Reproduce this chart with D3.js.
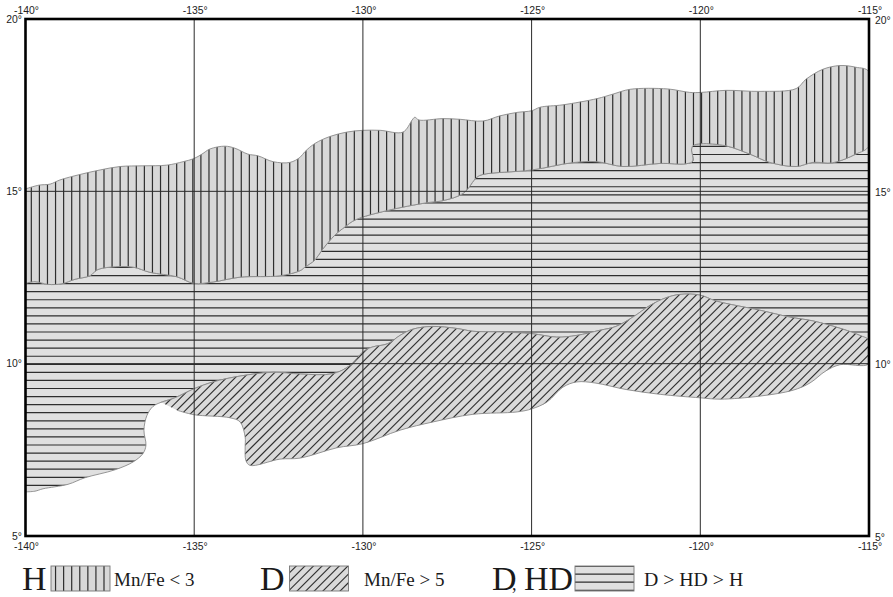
<!DOCTYPE html>
<html lang="en">

<head>
    <meta charset="UTF-8">
    <title>Mn/Fe map</title>
    <script src="https://d3js.org/d3.v7.min.js"></script>
    <style>
        html, body { margin: 0; padding: 0; background: #fff; }
        svg { display: block; }
        .tick text { font-family: "Liberation Sans", Arial, sans-serif; font-size: 10.4px; fill: #222; }
        .legend-text { font-family: "Liberation Serif", "Times New Roman", serif; fill: #1a1a1a; }
    </style>
</head>

<body>
    <svg width="893" height="597"></svg>
    <script>
        var lonTicks = [-140, -135, -130, -125, -120, -115];
        var latTicks = [5, 10, 15, 20];

        // upper edge of the H area, west to east [lon, lat]
        var hUpper = [[-140, 15.07], [-139.6, 15.18], [-139.27, 15.21], [-138.98, 15.33], [-138.38, 15.49], [-137.79, 15.62],
            [-137.2, 15.72], [-136.52, 15.74], [-135.81, 15.76], [-135.33, 15.86], [-135.01, 15.95], [-134.77, 16.08],
            [-134.53, 16.23], [-134.09, 16.31], [-133.79, 16.25], [-133.41, 16.08], [-133.11, 16.03], [-132.66, 15.86],
            [-132.16, 15.84], [-131.86, 15.99], [-131.72, 16.15], [-131.42, 16.39], [-130.98, 16.59], [-130.47, 16.72],
            [-130, 16.77], [-129.49, 16.77], [-128.81, 16.72], [-128.54, 17.07], [-128.46, 17.15], [-128.34, 17.07],
            [-127.63, 17.11], [-127.12, 17.09], [-126.44, 17.04], [-125.94, 17.19], [-125.43, 17.29], [-124.99, 17.34],
            [-124.75, 17.44], [-124.07, 17.51], [-123.06, 17.69], [-122.59, 17.82], [-122.08, 17.96], [-120.96, 17.97],
            [-120.31, 17.87], [-119.98, 17.87], [-119.24, 17.93], [-118.23, 17.9], [-117.16, 17.98], [-116.87, 18.25],
            [-116.37, 18.54], [-115.86, 18.65], [-115.39, 18.6], [-115, 18.47]];

        // border between H and D,HD, west to east
        var hLower = [[-140, 12.33], [-139.72, 12.38], [-139.33, 12.3], [-138.92, 12.32], [-138.53, 12.45], [-138.09, 12.55],
            [-137.88, 12.72], [-137.5, 12.8], [-136.81, 12.8], [-136.31, 12.65], [-135.51, 12.52], [-135.01, 12.33],
            [-134.44, 12.37], [-133.64, 12.51], [-132.46, 12.55], [-131.86, 12.7], [-131.72, 12.8], [-131.42, 13.01],
            [-131.21, 13.3], [-130.83, 13.73], [-130.53, 13.97], [-130.23, 14.17], [-129.29, 14.44], [-128.1, 14.67],
            [-127.63, 14.73], [-127.03, 14.94], [-126.62, 15.41], [-126.44, 15.49], [-124.99, 15.62], [-123.8, 15.83],
            [-123.06, 15.86], [-122.29, 15.72], [-121.19, 15.81], [-120.42, 15.8], [-120.22, 15.88], [-120.26, 16.2],
            [-120.22, 16.32], [-119.98, 16.38], [-119.24, 16.32], [-118.53, 16.08], [-117.94, 15.84], [-117.16, 15.72],
            [-116.66, 15.84], [-116.07, 15.83], [-115.39, 16.08], [-115, 16.32]];

        // upper edge of the D area, west to east
        var dUpper = [[-135.98, 8.88], [-135.57, 9.01], [-135.01, 9.27], [-134.44, 9.47], [-133.64, 9.64], [-132.66, 9.75],
            [-131.86, 9.7], [-130.89, 9.71], [-130.38, 9.95], [-130, 10.34], [-129.73, 10.48], [-129.26, 10.58],
            [-128.9, 10.82], [-128.52, 11], [-127.95, 11.08], [-127.21, 11.02], [-126.74, 10.94], [-125.94, 10.92],
            [-124.99, 10.87], [-124.25, 10.77], [-123.66, 10.82], [-122.97, 10.97], [-122.5, 11.08], [-122, 11.35],
            [-121.49, 11.69], [-121.02, 11.91], [-120.6, 12.01], [-120.01, 11.99], [-119.54, 11.82], [-118.23, 11.55],
            [-117.34, 11.35], [-116.66, 11.24], [-115.77, 11], [-115.27, 10.82], [-115, 10.68]];

        // lower edge of the D area, east to west
        var dLower = [[-115, 10], [-115.86, 9.97], [-116.28, 9.79], [-116.75, 9.44], [-117.25, 9.23], [-118.23, 9.06],
            [-119.41, 8.97], [-120.01, 9.01], [-121.19, 9.11], [-122.2, 9.25], [-123.12, 9.44], [-123.66, 9.47],
            [-124.07, 9.32], [-124.54, 8.89], [-124.99, 8.69], [-125.43, 8.6], [-126.74, 8.53], [-127.92, 8.31],
            [-128.9, 8.07], [-130, 7.68], [-130.77, 7.56], [-131.86, 7.26], [-132.46, 7.23], [-133.35, 7.05],
            [-133.47, 7.2], [-133.49, 7.58], [-133.49, 7.87], [-133.64, 8.31], [-133.94, 8.43], [-135.01, 8.52],
            [-135.51, 8.65]];

        // lower edge of D,HD, from the tip of D to the west border
        var hdLower = [[-136.22, 8.76], [-136.4, 8.5], [-136.49, 8.07], [-136.43, 7.63], [-136.52, 7.39], [-136.81, 7.15],
            [-137.35, 6.92], [-138.24, 6.69], [-138.74, 6.5], [-139.48, 6.37], [-139.72, 6.3], [-140, 6.28]];

        var legendKeys = ["H", "D", "D, HD"];
        var legendNotes = ["Mn/Fe < 3", "Mn/Fe > 5", "D > HD > H"];

        var svg = d3.select('svg');
        var x = d3.scaleLinear().domain([-140, -115]).range([25.5, 869]);
        var y = d3.scaleLinear().domain([5, 20]).range([536, 19]);

        var path = d3.line()
            .x(d => x(d[0]))
            .y(d => y(d[1]))
            .curve(d3.curveCatmullRom.alpha(0.5));

        var rev = a => a.slice().reverse();
        var hArea = hUpper.concat(rev(hLower));
        var dArea = dUpper.concat(dLower);
        var hdArea = hLower.concat(rev(dUpper), hdLower);

        var defs = svg.append('defs');
        var plotClip = defs.append('clipPath').attr('id', 'plot-clip');
        plotClip.append('rect')
            .attr('x', x(-140)).attr('y', y(20))
            .attr('width', x(-115) - x(-140)).attr('height', y(5) - y(20));

        // hatch lines stay in page space so the legend lines up with the map
        function hatch(g, kind) {
            var lines;
            if (kind == 'v') {
                lines = d3.range(-2, 106).map(i => { var p = 39.4 + i * 8.075; return [p, 0, p, 597]; });
            } else if (kind == 'h') {
                lines = d3.range(-46, 30).map(i => { var p = 364.3 + i * 8.07; return [0, p, 893, p]; });
            } else {
                lines = d3.range(0, 180).map(i => { var p = 2.3 + i * 8.6; return [p, 0, p - 597, 597]; });
            }
            g.selectAll('line').data(lines).enter().append('line')
                .attr('x1', d => d[0]).attr('y1', d => d[1])
                .attr('x2', d => d[2]).attr('y2', d => d[3])
                .attr('stroke', '#2e2e2e')
                .attr('stroke-width', kind == 'd' ? 1.1 : 1.2);
        }

        function region(id, pathD, fill, kind) {
            defs.append('clipPath').attr('id', id).append('path').attr('d', pathD);
            var g = svg.append('g').attr('clip-path', 'url(#plot-clip)');
            g.append('path').attr('d', pathD).attr('fill', fill);
            hatch(g.append('g').attr('clip-path', `url(#${id})`), kind);
            g.append('path').attr('d', pathD)
                .attr('fill', 'none')
                .attr('stroke', '#8a8a8a')
                .attr('stroke-width', 0.9);
        }

        region('hd-clip', path(hdArea), '#e0e0e0', 'h');
        region('h-clip', path(hArea), '#d8d8d8', 'v');
        region('d-clip', path(dArea), '#dadada', 'd');

        // graticule
        var grid = svg.append('g').attr('stroke', '#2b2b2b').attr('stroke-width', 1);
        grid.selectAll('.lon').data(lonTicks.slice(1, -1)).enter().append('line')
            .attr('x1', d => x(d)).attr('x2', d => x(d))
            .attr('y1', y(20)).attr('y2', y(5));
        grid.selectAll('.lat').data(latTicks.slice(1, -1)).enter().append('line')
            .attr('y1', d => y(d)).attr('y2', d => y(d))
            .attr('x1', x(-140)).attr('x2', x(-115));

        svg.append('rect')
            .attr('x', x(-140)).attr('y', y(20))
            .attr('width', x(-115) - x(-140)).attr('height', y(5) - y(20))
            .attr('fill', 'none')
            .attr('stroke', '#000')
            .attr('stroke-width', 2.6);

        // axes, labels only
        var fmt = d => d + '°';
        function addAxis(axis, tx, ty) {
            var g = svg.append('g').attr('transform', `translate(${tx},${ty})`)
                .call(axis.tickSize(0).tickFormat(fmt));
            g.select('.domain').remove();
        }
        addAxis(d3.axisTop(x).tickValues(lonTicks).tickPadding(5), 0.5, y(20));
        addAxis(d3.axisBottom(x).tickValues(lonTicks).tickPadding(7), 0.5, y(5));
        addAxis(d3.axisLeft(y).tickValues(latTicks).tickPadding(3.5), x(-140), 0);
        addAxis(d3.axisRight(y).tickValues(latTicks).tickPadding(6), x(-115), 1);

        // legend
        var swatches = [
            { x: 51, fill: '#d8d8d8', kind: 'v' },
            { x: 289.5, fill: '#dadada', kind: 'd' },
            { x: 575, fill: '#e0e0e0', kind: 'h' }
        ];
        swatches.forEach((s, i) => {
            var id = 'legend-clip-' + i;
            defs.append('clipPath').attr('id', id).append('rect')
                .attr('x', s.x).attr('y', 566).attr('width', 59).attr('height', 25);
            svg.append('rect')
                .attr('x', s.x).attr('y', 566).attr('width', 59).attr('height', 25)
                .attr('fill', s.fill);
            hatch(svg.append('g').attr('clip-path', `url(#${id})`), s.kind);
            svg.append('rect')
                .attr('x', s.x).attr('y', 566).attr('width', 59).attr('height', 25)
                .attr('fill', 'none')
                .attr('stroke', '#777')
                .attr('stroke-width', 0.9);
        });

        var keyX = [22, 260, 492];
        var noteX = [114, 364, 644];
        var noteSize = [19, 19, 19.8];
        legendKeys.forEach((k, i) => {
            var t = svg.append('text')
                .attr('class', 'legend-text')
                .attr('x', keyX[i]).attr('y', 590)
                .attr('font-size', 34);
            if (k.indexOf(',') < 0) {
                t.text(k);
            } else {
                // the comma sits tight under the D in the original
                var parts = k.split(', ');
                t.append('tspan').text(parts[0]);
                t.append('tspan').attr('x', 512).attr('font-size', 18).text(',');
                t.append('tspan').attr('x', 524).text(parts[1]);
            }
            svg.append('text')
                .attr('class', 'legend-text')
                .attr('x', noteX[i]).attr('y', 586)
                .attr('font-size', noteSize[i])
                .text(legendNotes[i]);
        });
    </script>
</body>

</html>
